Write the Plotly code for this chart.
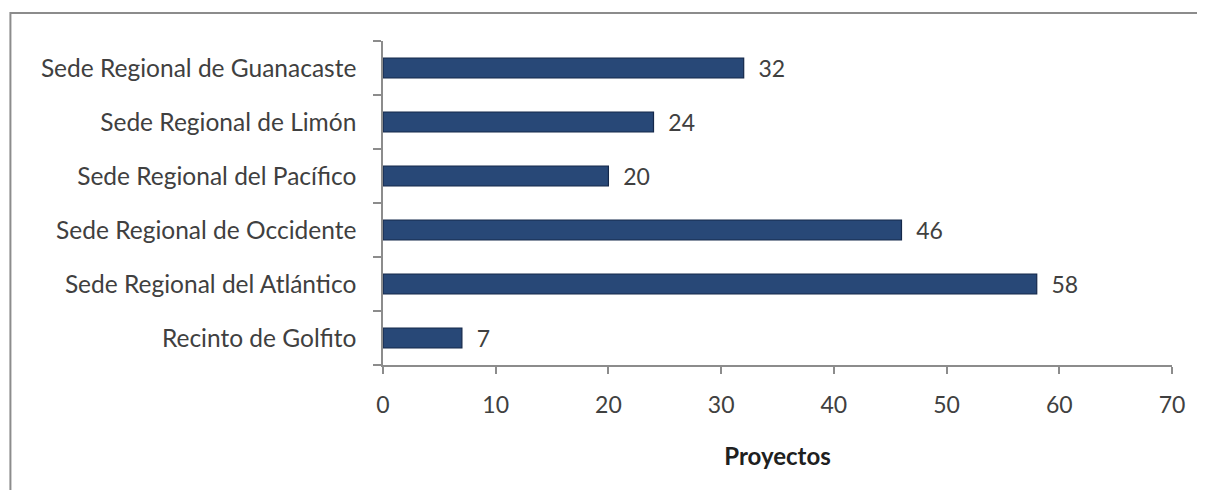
import plotly.graph_objects as go

categories = ["Recinto de Golfito", "Sede Regional del Atlántico", "Sede Regional de Occidente",
              "Sede Regional del Pacífico", "Sede Regional de Limón", "Sede Regional de Guanacaste"]
proyectos = [7, 58, 46, 20, 24, 32]
x_ticks = [0, 10, 20, 30, 40, 50, 60, 70]

FONT = "Lato, 'Open Sans', sans-serif"
TXT = "#404040"

fig = go.Figure()
fig.add_trace(go.Bar(
    y=categories, x=proyectos, orientation="h",
    marker=dict(color="#284877", line=dict(color="#14284A", width=1.2)),
    text=["  " + str(v) for v in proyectos], textposition="outside", constraintext="none",
    textfont=dict(family=FONT, size=23, color=TXT), cliponaxis=False,
    hoverinfo="skip",
))

# page has an 8px body margin; figure coordinates are page coordinates minus 8
OFF = 8
W, H = 1205 - 2 * OFF, 498 - 2 * OFF
L, R, T, B = 383 - OFF, 1175 - OFF, 41 - OFF, 365 - OFF
pw, ph = R - L, B - T

def px(x):
    return (x - OFF - L) / pw

def py(y):
    return (B - (y - OFF)) / ph

fig.add_shape(type="rect", xref="paper", yref="paper",
              x0=px(9), x1=px(1230), y0=py(13), y1=py(530),
              line=dict(color="#8C8C8C", width=2), fillcolor="rgba(0,0,0,0)", layer="below")

fig.update_layout(
    width=W, height=H,
    margin=dict(l=L, r=W - R, t=T, b=H - B),
    paper_bgcolor="white", plot_bgcolor="white",
    bargap=0.63, showlegend=False,
    font=dict(family=FONT, color=TXT),
    xaxis=dict(range=[0, 70], tickvals=x_ticks, showgrid=False, zeroline=False,
               showline=True, linecolor="#8C8C8C", linewidth=1.5,
               ticks="outside", ticklen=7, tickcolor="#8C8C8C", tickwidth=1.5,
               tickfont=dict(family=FONT, size=23, color=TXT), ticklabelstandoff=12,
               title=dict(text="<b>Proyectos</b>", font=dict(family=FONT, size=24, color="#202020"),
                          standoff=31)),
    yaxis=dict(showgrid=False, zeroline=False, showline=True, linecolor="#8C8C8C", linewidth=1.5,
               ticks="outside", ticklen=8, tickcolor="#8C8C8C", tickwidth=1.5, tickson="boundaries",
               tickfont=dict(family=FONT, size=24.5, color=TXT), ticklabelstandoff=20),
)

fig.write_html("out.html")
